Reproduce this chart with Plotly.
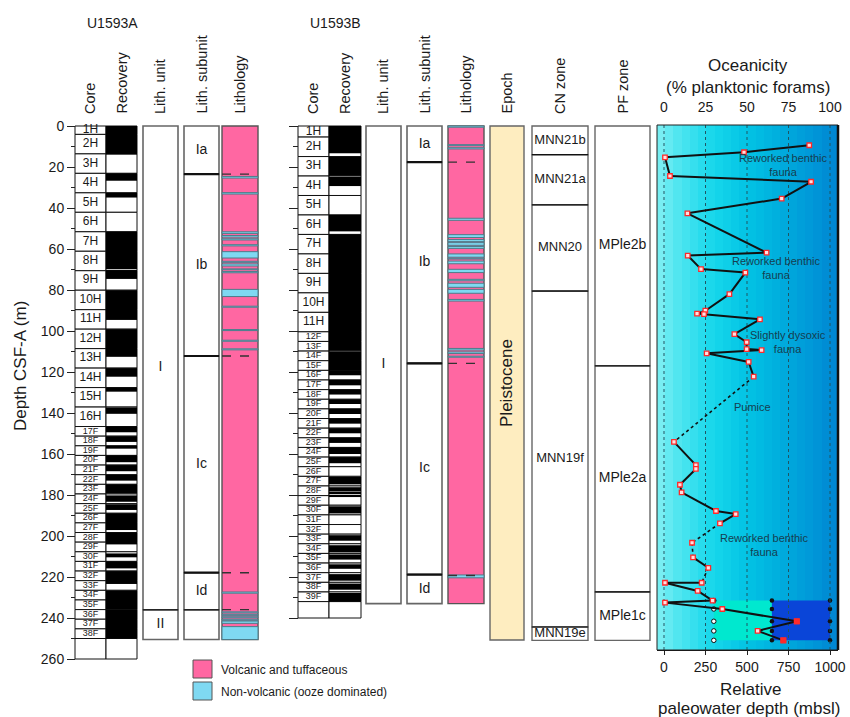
import plotly.graph_objects as go
import numpy as np

W, H = 850, 717
FONT = "Liberation Sans, Arial, sans-serif"
TXT = "#1a1a1a"
PINK = "#ff67a2"
BLUE = "#7fd9f2"
BAND_LINE = "#4d7c8a"
EPOCH_C = "#feedc0"

# ---------------- Site U1593A ----------------
A_core_names = ["1H", "2H", "3H", "4H", "5H", "6H", "7H", "8H", "9H", "10H", "11H", "12H", "13H",
                "14H", "15H", "16H", "17F", "18F", "19F", "20F", "21F", "22F", "23F", "24F", "25F",
                "26F", "27F", "28F", "29F", "30F", "31F", "32F", "33F", "34F", "35F", "36F", "37F", "38F"]
A_core_top = [0.0, 4.1, 13.6, 23.1, 32.6, 42.1, 51.6, 61.1, 70.6, 80.1, 89.6, 99.1, 108.6, 118.1,
              127.6, 137.1, 146.6, 151.3, 156.0, 160.7, 165.4, 170.1, 174.8, 179.5, 184.2, 188.9,
              193.6, 198.3, 203.0, 207.7, 212.4, 217.1, 221.8, 226.5, 231.2, 235.9, 240.6, 245.3]
A_core_bot = [4.1, 13.6, 23.1, 32.6, 42.1, 51.6, 61.1, 70.6, 80.1, 89.6, 99.1, 108.6, 118.1, 127.6,
              137.1, 146.6, 151.3, 156.0, 160.7, 165.4, 170.1, 174.8, 179.5, 184.2, 188.9, 193.6,
              198.3, 203.0, 207.7, 212.4, 217.1, 221.8, 226.5, 231.2, 235.9, 240.6, 245.3, 250.0]
A_blank = [250.0, 260.0]
A_rec_top = [0.0, 12.95, 23.1, 32.6, 51.6, 70.3, 80.1, 99.1, 118.1, 127.6, 137.3, 146.6, 151.3,
             156.0, 160.7, 165.4, 170.1, 174.8, 180.2, 184.5, 188.9, 198.3, 208.5, 212.4, 217.1,
             226.6, 235.9]
A_rec_bot = [12.7, 13.9, 26.7, 34.9, 69.9, 74.6, 94.6, 112.6, 122.3, 129.6, 140.4, 149.4, 154.1,
             157.4, 164.0, 168.4, 173.0, 179.2, 183.3, 187.3, 197.1, 204.1, 210.4, 215.8, 223.4,
             235.6, 250.0]
A_unit_names = ["I", "II"]
A_unit_top = [0.0, 236.0]
A_unit_bot = [236.0, 250.5]
A_sub_names = ["Ia", "Ib", "Ic", "Id", ""]
A_sub_top = [0.0, 23.5, 112.2, 217.9, 236.0]
A_sub_bot = [23.5, 112.2, 217.9, 236.0, 250.5]
A_lith_end = 250.5
A_blue_top = [24.6, 32.5, 51.6, 53.4, 55.0, 57.9, 61.3, 66.0, 67.3, 69.7, 71.0, 79.7, 87.9, 99.3,
              104.5, 108.7, 227.3, 237.0, 238.2, 239.4, 240.6, 241.5, 244.2]
A_blue_bot = [25.4, 33.2, 52.4, 54.2, 55.6, 58.5, 64.4, 66.5, 68.3, 70.1, 71.6, 83.2, 88.4, 99.8,
              105.0, 109.2, 227.9, 237.5, 238.7, 239.9, 241.1, 242.6, 250.5]
A_dashed = [23.5, 112.2, 217.9, 235.9]

# ---------------- Site U1593B ----------------
B_core_names = ["1H", "2H", "3H", "4H", "5H", "6H", "7H", "8H", "9H", "10H", "11H", "12F", "13F",
                "14F", "15F", "16F", "17F", "18F", "19F", "20F", "21F", "22F", "23F", "24F", "25F",
                "26F", "27F", "28F", "29F", "30F", "31F", "32F", "33F", "34F", "35F", "36F", "37F",
                "38F", "39F"]
B_core_top = [0.0, 5.4, 14.9, 24.4, 33.9, 43.4, 52.9, 62.4, 71.9, 81.4, 90.9, 100.4, 105.1, 109.8,
              114.5, 119.2, 123.9, 128.6, 133.3, 138.0, 142.7, 147.4, 152.1, 156.8, 161.5, 166.2,
              170.9, 175.6, 180.3, 185.0, 189.7, 194.4, 199.1, 203.8, 208.5, 213.2, 217.9, 222.6,
              227.3]
B_core_bot = [5.4, 14.9, 24.4, 33.9, 43.4, 52.9, 62.4, 71.9, 81.4, 90.9, 100.4, 105.1, 109.8, 114.5,
              119.2, 123.9, 128.6, 133.3, 138.0, 142.7, 147.4, 152.1, 156.8, 161.5, 166.2, 170.9,
              175.6, 180.3, 185.0, 189.7, 194.4, 199.1, 203.8, 208.5, 213.2, 217.9, 222.6, 227.3,
              232.0]
B_blank = [232.0, 240.0]
B_rec_top = [0.0, 15.0, 24.8, 43.4, 52.9, 110.0, 119.2, 123.9, 128.6, 133.3, 138.0, 142.7, 147.4,
             152.1, 156.8, 161.5, 171.2, 176.2, 178.8, 180.3, 185.5, 199.6, 204.5, 209.0, 213.8,
             218.6, 223.2, 227.8]
B_rec_bot = [13.3, 24.3, 29.3, 51.4, 109.6, 119.2, 121.6, 126.5, 131.0, 135.6, 140.5, 145.2, 149.9,
             154.6, 160.0, 164.5, 174.8, 178.3, 179.6, 181.0, 189.0, 202.3, 208.0, 211.5, 216.0,
             221.8, 226.2, 232.0]
B_unit_names = ["I"]
B_unit_top = [0.0]
B_unit_bot = [233.0]
B_sub_names = ["Ia", "Ib", "Ic", "Id"]
B_sub_top = [0.0, 17.6, 115.8, 218.8]
B_sub_bot = [17.6, 115.8, 218.8, 233.0]
B_lith_end = 233.0
B_blue_top = [0.0, 9.1, 10.6, 45.0, 53.0, 55.4, 56.9, 58.8, 62.4, 64.5, 65.9, 69.9, 74.8, 76.7,
              79.7, 84.6, 108.5, 110.2, 112.3, 219.0]
B_blue_bot = [0.6, 9.6, 11.2, 46.0, 54.4, 56.4, 58.2, 59.7, 64.0, 64.9, 67.2, 71.5, 75.5, 78.7,
              81.6, 85.4, 109.3, 111.0, 112.8, 220.4]
B_dashed = [17.6, 115.8, 219.3]

# ---------------- Biostratigraphy ----------------
epoch_names = ["Pleistocene"]
epoch_top = [0.0]
epoch_bot = [250.7]
cn_names = ["MNN21b", "MNN21a", "MNN20", "MNN19f", "MNN19e"]
cn_top = [0.0, 14.0, 38.5, 80.5, 244.4]
cn_bot = [14.0, 38.5, 80.5, 244.4, 250.9]
pf_names = ["MPle2b", "MPle2a", "MPle1c"]
pf_top = [0.0, 117.0, 227.3]
pf_bot = [117.0, 227.3, 250.9]

# ---------------- Oceanicity ----------------
ocean_depth = [9.4, 12.8, 15.3, 24.4, 27.2, 35.4, 42.6, 61.8, 63.2, 69.8, 71.5, 82.0, 90.1, 91.5,
               91.8, 94.3, 101.5, 105.5, 108.8, 109.3, 110.9, 115.1, 122.3, 154.1, 165.4, 167.3,
               175.0, 178.7, 187.8, 189.3, 193.8, 203.3, 210.4, 215.5, 222.8, 222.8, 226.8, 231.5,
               232.5, 235.6, 241.6, 246.3, 250.9]
ocean_pct = [87.5, 48.2, 0.6, 3.6, 88.6, 70.9, 14.1, 61.8, 14.3, 22.3, 49.0, 39.4, 24.9, 19.9,
             24.1, 57.8, 42.4, 49.8, 49.8, 58.8, 25.7, 51.0, 54.0, 6.0, 19.2, 19.2, 9.6, 10.6,
             31.3, 43.2, 33.7, 16.9, 17.5, 26.7, 22.7, 0.6, 20.3, 29.3, 0.6, 35.1, 80.0, 56.4, 71.9]
ocean_dotted_segments = [22, 30, 31, 33]
ocean_filled_idx = [40, 42]
paleo_depths = [231.5, 235.6, 241.6, 246.3, 250.9]
paleo_min = 300
paleo_mid = 650
paleo_max = 1000
ocean_notes = [("Reworked benthic<br>fauna", 71.7, 19.0),
               ("Reworked benthic<br>fauna", 67.5, 69.3),
               ("Slightly dysoxic<br>fauna", 74.5, 105.5),
               ("Pumice", 53.2, 136.9),
               ("Reworked benthic<br>fauna", 60.4, 204.4)]
pct_ticks = [0, 25, 50, 75, 100]
mbsl_ticks = [0, 250, 500, 750, 1000]

# ---------------- layout geometry ----------------
PX0, PXM = 126.0, 2.05   # pixel of depth 0, pixels per metre


def py(d):
    return PX0 + PXM * d


def ydom(d_top, d_bot):
    return [1 - py(d_bot) / H, 1 - py(d_top) / H]


def px(x):
    return x / W


def pyp(y):
    return 1 - y / H


fig = go.Figure()
layout = dict(width=W, height=H, margin=dict(l=0, r=0, t=0, b=0, pad=0, autoexpand=False),
              autosize=False, paper_bgcolor="white", plot_bgcolor="rgba(0,0,0,0)",
              showlegend=False, hovermode=False, barmode="overlay",
              font=dict(family=FONT, color=TXT))

cols = [("A_core", 75, 106, "y"), ("A_rec", 106, 137, "y"), ("A_unit", 143, 178, "y"),
        ("A_sub", 184, 219, "y"), ("A_lith", 222, 258, "y"),
        ("B_core", 298, 329, "y2"), ("B_rec", 329, 361, "y2"), ("B_unit", 366, 401, "y2"),
        ("B_sub", 407, 442, "y2"), ("B_lith", 448, 484, "y2"), ("epoch", 490, 524, "y2"),
        ("cn", 532, 588, "y"), ("pf", 595, 650, "y")]
AX = {}
for i, (name, l, r, ya) in enumerate(cols):
    n = i + 1
    xid = "x" if n == 1 else f"x{n}"
    key = "xaxis" if n == 1 else f"xaxis{n}"
    pad = 2.0
    e = pad / (r - l)
    layout[key] = dict(domain=[(l - pad) / W, (r + pad) / W], range=[-0.5 - e, 0.5 + e],
                       anchor=ya, visible=False, fixedrange=True)
    AX[name] = (xid, ya, l, r)

ydomain = ydom(-1, 261)
layout["yaxis"] = dict(domain=ydomain, range=[261, -1], anchor="free", position=75 / W, side="left",
                       tickmode="array", tickvals=list(range(0, 261, 20)), ticks="outside",
                       ticklen=8, tickwidth=1, tickcolor="#222", showgrid=False, zeroline=False,
                       showline=False, tickfont=dict(size=14, color=TXT), automargin=False,
                       minor=dict(tickmode="array", tickvals=list(range(10, 260, 20)),
                                  ticks="outside", ticklen=4, tickcolor="#222", tickwidth=1),
                       fixedrange=True)
layout["yaxis2"] = dict(domain=ydomain, range=[261, -1], anchor="free", position=298 / W,
                        side="left", tickmode="array", tickvals=list(range(0, 241, 20)),
                        ticks="outside", ticklen=9, tickwidth=1, tickcolor="#222",
                        showticklabels=False, showgrid=False, zeroline=False, showline=False,
                        automargin=False,
                        minor=dict(tickmode="array", tickvals=list(range(10, 240, 20)),
                                   ticks="outside", ticklen=5, tickcolor="#222", tickwidth=1),
                        fixedrange=True)


def bars(col, tops, bots, color, lc, lw):
    xid, ya, _, _ = AX[col]
    fig.add_trace(go.Bar(x=[0] * len(tops), base=tops, y=[b - t for t, b in zip(tops, bots)],
                         width=1, marker=dict(color=color, line=dict(color=lc, width=lw)),
                         xaxis=xid, yaxis=ya, hoverinfo="skip"))


def labels(col, tops, bots, names, size):
    xid, ya, _, _ = AX[col]
    if not isinstance(size, list):
        size = [size] * len(names)
    fig.add_trace(go.Scatter(x=[0] * len(names), y=[(t + b) / 2 for t, b in zip(tops, bots)],
                             text=names, mode="text", textfont=dict(size=size, color=TXT, family=FONT),
                             xaxis=xid, yaxis=ya, cliponaxis=False, hoverinfo="skip"))


def hlines(col, depths, color, width, dash="solid"):
    xid, ya, _, _ = AX[col]
    xs, ys = [], []
    for d in depths:
        xs += [-0.5, 0.5, None]
        ys += [d, d, None]
    fig.add_trace(go.Scatter(x=xs, y=ys, mode="lines", line=dict(color=color, width=width, dash=dash),
                             xaxis=xid, yaxis=ya, hoverinfo="skip"))


def core_sizes(names):
    return [12 if nm.endswith("H") else 9 for nm in names]


# --- Site A columns ---
bars("A_core", A_core_top + [A_blank[0]], A_core_bot + [A_blank[1]], "white", "#111", 1)
labels("A_core", A_core_top, A_core_bot, A_core_names, core_sizes(A_core_names))
bars("A_rec", A_core_top + [A_blank[0]], A_core_bot + [A_blank[1]], "white", "#111", 1)
bars("A_rec", A_rec_top, A_rec_bot, "black", "black", 0)
bars("A_unit", A_unit_top, A_unit_bot, "white", "#666", 1.6)
hlines("A_unit", [A_unit_bot[0]], "#111", 1.2)
labels("A_unit", A_unit_top, A_unit_bot, A_unit_names, 14)
bars("A_sub", A_sub_top, A_sub_bot, "white", "#666", 1.6)
hlines("A_sub", A_sub_bot[:3], "#111", 2.2)
hlines("A_sub", [A_sub_bot[3]], "#111", 1.2)
labels("A_sub", A_sub_top, A_sub_bot, A_sub_names, 14)
bars("A_lith", [0.0], [A_lith_end], PINK, "#555", 1.4)
bars("A_lith", A_blue_top, A_blue_bot, BLUE, BAND_LINE, 1)
hlines("A_lith", A_dashed, "#333", 1.4, "dash")

# --- Site B columns ---
bars("B_core", B_core_top + [B_blank[0]], B_core_bot + [B_blank[1]], "white", "#111", 1)
labels("B_core", B_core_top, B_core_bot, B_core_names, core_sizes(B_core_names))
bars("B_rec", B_core_top + [B_blank[0]], B_core_bot + [B_blank[1]], "white", "#111", 1)
bars("B_rec", B_rec_top, B_rec_bot, "black", "black", 0)
bars("B_unit", B_unit_top, B_unit_bot, "white", "#666", 1.6)
labels("B_unit", B_unit_top, B_unit_bot, B_unit_names, 14)
bars("B_sub", B_sub_top, B_sub_bot, "white", "#666", 1.6)
hlines("B_sub", B_sub_bot[:3], "#111", 2.2)
labels("B_sub", B_sub_top, B_sub_bot, B_sub_names, 14)
bars("B_lith", [0.0], [B_lith_end], PINK, "#555", 1.4)
bars("B_lith", B_blue_top, B_blue_bot, BLUE, BAND_LINE, 1)
hlines("B_lith", B_dashed, "#333", 1.4, "dash")
bars("epoch", epoch_top, epoch_bot, EPOCH_C, "#666", 1.4)

# --- zones ---
bars("cn", cn_top, cn_bot, "white", "#666", 1.4)
hlines("cn", cn_bot[:4], "#111", 1.2)
labels("cn", cn_top, cn_bot, cn_names, 13)
bars("pf", pf_top, pf_bot, "white", "#666", 1.4)
hlines("pf", pf_bot[:2], "#111", 1.2)
labels("pf", pf_top, pf_bot, pf_names, 14)

annotations = []
ex, ey, _, _ = AX["epoch"]
annotations.append(dict(x=0, y=(epoch_top[0] + epoch_bot[0]) / 2, xref=ex, yref=ey, text=epoch_names[0],
                        textangle=-90, showarrow=False, xanchor="center", yanchor="middle",
                        font=dict(size=17, color=TXT)))

# --- Oceanicity panel ---
OL, OR, O0, O100 = 657.0, 838.0, 664.0, 830.0
opx = (O100 - O0) / 100.0
OTOP, OBOT = 125.0, 650.0
nA = len(cols)
xo_b = f"x{nA + 1}"
xo_t = f"x{nA + 2}"
y_o = "y3"
layout["yaxis3"] = dict(domain=[1 - OBOT / H, 1 - OTOP / H],
                        range=[(OBOT - PX0) / PXM, (OTOP - PX0) / PXM], anchor="free",
                        position=OL / W, visible=False, fixedrange=True)
layout[f"xaxis{nA + 1}"] = dict(domain=[OL / W, OR / W],
                                range=[(OL - O0) / opx * 10, (OR - O0) / opx * 10], anchor=y_o,
                                side="bottom", tickmode="array", tickvals=mbsl_ticks,
                                ticks="outside", ticklen=4, tickcolor="#222", showline=True,
                                linecolor="#111", linewidth=1.2, showgrid=False, zeroline=False,
                                tickfont=dict(size=14, color=TXT), fixedrange=True, automargin=False)
layout[f"xaxis{nA + 2}"] = dict(overlaying=xo_b, range=[(OL - O0) / opx, (OR - O0) / opx],
                                anchor=y_o, side="top", tickmode="array", tickvals=pct_ticks,
                                ticks="outside", ticklen=6, tickcolor="rgba(0,0,0,0)",
                                showline=False, showgrid=False, zeroline=False,
                                tickfont=dict(size=14, color=TXT), fixedrange=True, automargin=False)

# background gradient (styling)
nb = 22
edges = np.linspace((OL - O0) / opx * 10, (OR - O0) / opx * 10, nb + 1)
grad_scale = [[0, "#78eef3"], [0.1, "#4fe6f0"], [0.3, "#17d7eb"], [0.5, "#02c3e4"],
              [0.7, "#00acdd"], [0.88, "#0097d8"], [1, "#0087d2"]]
fig.add_trace(go.Heatmap(x=edges, y=[(OTOP - PX0) / PXM, (OBOT - PX0) / PXM],
                         z=[list(range(nb))], colorscale=grad_scale, showscale=False,
                         xaxis=xo_b, yaxis=y_o, hoverinfo="skip", zsmooth=False))
ptop, pbot = paleo_depths[0], paleo_depths[-1]
fig.add_trace(go.Scatter(x=[paleo_min, paleo_mid, paleo_mid, paleo_min, paleo_min],
                         y=[ptop, ptop, pbot, pbot, ptop], fill="toself", fillcolor="#00e8cf",
                         mode="lines", line=dict(width=0), xaxis=xo_b, yaxis=y_o, hoverinfo="skip"))
fig.add_trace(go.Scatter(x=[paleo_mid, paleo_max, paleo_max, paleo_mid, paleo_mid],
                         y=[ptop, ptop, pbot, pbot, ptop], fill="toself", fillcolor="#0a45d8",
                         mode="lines", line=dict(width=0), xaxis=xo_b, yaxis=y_o, hoverinfo="skip"))
fig.add_trace(go.Scatter(x=[paleo_min] * len(paleo_depths), y=paleo_depths, mode="markers",
                         marker=dict(size=4.5, color=["#111"] + ["white"] * (len(paleo_depths) - 1),
                                     line=dict(color="#111", width=1)),
                         xaxis=xo_b, yaxis=y_o, cliponaxis=False, hoverinfo="skip"))
fig.add_trace(go.Scatter(x=[paleo_mid] * len(paleo_depths) + [paleo_max] * len(paleo_depths),
                         y=paleo_depths + paleo_depths, mode="markers",
                         marker=dict(size=4.5, color="#111"),
                         xaxis=xo_b, yaxis=y_o, cliponaxis=False, hoverinfo="skip"))

gx, gy = [], []
for t in pct_ticks:
    gx += [t, t, None]
    gy += [(OTOP - PX0) / PXM, (OBOT - PX0) / PXM, None]
fig.add_trace(go.Scatter(x=gx, y=gy, mode="lines", line=dict(color="#1f5563", width=1, dash="dot"),
                         xaxis=xo_t, yaxis=y_o, hoverinfo="skip"))

sx, sy, dx, dy = [], [], [], []
for i in range(len(ocean_depth) - 1):
    seg_x = [ocean_pct[i], ocean_pct[i + 1], None]
    seg_y = [ocean_depth[i], ocean_depth[i + 1], None]
    if i in ocean_dotted_segments:
        dx += seg_x
        dy += seg_y
    else:
        sx += seg_x
        sy += seg_y
fig.add_trace(go.Scatter(x=sx, y=sy, mode="lines", line=dict(color="#111", width=2),
                         xaxis=xo_t, yaxis=y_o, hoverinfo="skip"))
fig.add_trace(go.Scatter(x=dx, y=dy, mode="lines", line=dict(color="#111", width=1.6, dash="dot"),
                         xaxis=xo_t, yaxis=y_o, hoverinfo="skip"))
fig.add_trace(go.Scatter(x=ocean_pct, y=ocean_depth, mode="markers",
                         marker=dict(symbol="square", size=4.5, color="#ffe0e0",
                                     line=dict(color="#ff2a2a", width=1.3)),
                         xaxis=xo_t, yaxis=y_o, cliponaxis=False, hoverinfo="skip"))
fig.add_trace(go.Scatter(x=[ocean_pct[i] for i in ocean_filled_idx],
                         y=[ocean_depth[i] for i in ocean_filled_idx], mode="markers",
                         marker=dict(symbol="square", size=6, color="#ff2a2a"),
                         xaxis=xo_t, yaxis=y_o, cliponaxis=False, hoverinfo="skip"))

for txt, xv, yv in ocean_notes:
    annotations.append(dict(x=xv, y=yv, xref=xo_t, yref=y_o, text=txt, showarrow=False,
                            xanchor="center", yanchor="middle",
                            font=dict(size=11, color="#163e50")))

shapes = [
    dict(type="rect", xref="paper", yref="paper", x0=px(OL), x1=px(OR), y0=pyp(OBOT),
         y1=pyp(OTOP), line=dict(color="#222", width=1), layer="above"),
    dict(type="line", xref="paper", yref="paper", x0=px(OR), x1=px(OR), y0=pyp(OBOT),
         y1=pyp(OTOP), line=dict(color="#111", width=2.5), layer="above"),
]

headers = [("A_core", "Core"), ("A_rec", "Recovery"), ("A_unit", "Lith. unit"),
           ("A_sub", "Lith. subunit"), ("A_lith", "Lithology"),
           ("B_core", "Core"), ("B_rec", "Recovery"), ("B_unit", "Lith. unit"),
           ("B_sub", "Lith. subunit"), ("B_lith", "Lithology"), ("epoch", "Epoch"),
           ("cn", "CN zone"), ("pf", "PF zone")]
for col, txt in headers:
    _, _, l, r = AX[col]
    annotations.append(dict(x=px((l + r) / 2), y=pyp(116), xref="paper", yref="paper", text=txt,
                            textangle=-90, xanchor="center", yanchor="bottom", showarrow=False,
                            font=dict(size=14.5, color=TXT)))


def free_text(x, y, txt, size, angle=0, xanchor="center"):
    annotations.append(dict(x=px(x), y=pyp(y), xref="paper", yref="paper", text=txt,
                            textangle=angle, xanchor=xanchor, yanchor="middle", showarrow=False,
                            font=dict(size=size, color=TXT)))


free_text(112, 23, "U1593A", 14)
free_text(335, 23, "U1593B", 14)
free_text(20, 366, "Depth CSF-A (m)", 17, angle=-90)
free_text(748, 65.5, "Oceanicity", 17)
free_text(748, 87.5, "(% planktonic forams)", 17)
free_text(750, 689, "Relative", 17)
free_text(749, 708, "paleowater depth (mbsl)", 17)

legend_items = [("Volcanic and tuffaceous", PINK), ("Non-volcanic (ooze dominated)", BLUE)]
for k, (txt, c) in enumerate(legend_items):
    y0 = 660 + k * 22
    shapes.append(dict(type="rect", xref="paper", yref="paper", x0=px(193), x1=px(212),
                       y0=pyp(y0 + 18), y1=pyp(y0), fillcolor=c,
                       line=dict(color="#555", width=1)))
    free_text(219, y0 + 9.5, txt, 12, xanchor="left")

layout["shapes"] = shapes
layout["annotations"] = annotations
fig.update_layout(**layout)
fig.write_html("out.html")
